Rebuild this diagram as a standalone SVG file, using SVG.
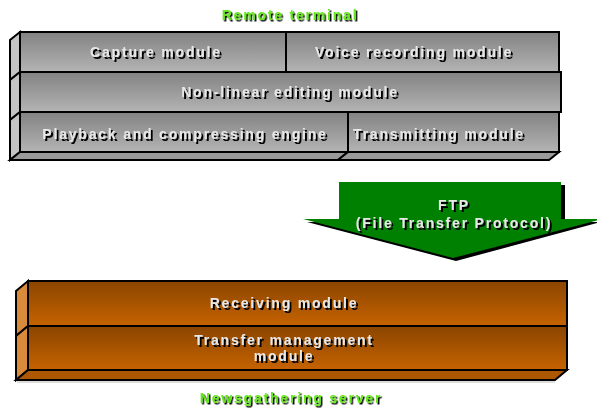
<svg xmlns="http://www.w3.org/2000/svg" width="597" height="408" viewBox="0 0 597 408">
  <defs>
    <linearGradient id="gray" x1="0" y1="0" x2="0" y2="1">
      <stop offset="0" stop-color="#828282"/>
      <stop offset="1" stop-color="#b4b4b4"/>
    </linearGradient>
    <linearGradient id="rust" x1="0" y1="0" x2="0" y2="1">
      <stop offset="0" stop-color="#8a4500"/>
      <stop offset="1" stop-color="#c66300"/>
    </linearGradient>
    <filter id="shadow" x="-10%" y="-30%" width="130%" height="180%">
      <feDropShadow dx="2" dy="2" stdDeviation="0" flood-color="#000" flood-opacity="1"/>
    </filter>
    <filter id="shadowSm" x="-10%" y="-30%" width="130%" height="180%">
      <feDropShadow dx="1.5" dy="1.5" stdDeviation="0" flood-color="#000" flood-opacity="1"/>
    </filter>
  </defs>
  <style>
    .edge { stroke: #000; stroke-width: 2; stroke-linejoin: miter; }
    .gface { fill: url(#gray); }
    .gside { fill: #c4c4c4; }
    .gbottom { fill: #9a9a9a; }
    .oface { fill: url(#rust); }
    .oside { fill: #d98a3a; }
    .obottom { fill: #ad5700; }
    .lbl { font-family: "Liberation Sans", Arial, sans-serif; font-weight: bold; font-size: 14px; letter-spacing: 1.8px; fill: #e8e8e8; text-anchor: middle; filter: url(#shadow); }
    .title { font-family: "Liberation Sans", Arial, sans-serif; font-weight: bold; font-size: 14px; letter-spacing: 1.8px; fill: #66e61e; text-anchor: middle; filter: url(#shadowSm); }
  </style>

  <rect width="597" height="408" fill="#ffffff"/>

  <!-- Remote terminal stack -->
  <g id="remote-terminal">
    <text class="title" x="290" y="20">Remote terminal</text>
    <!-- side and bottom faces -->
    <g class="edge">
      <polygon class="gside" points="20,32 10,40 10,80 20,72"/>
      <polygon class="gside" points="20,72 10,80 10,120 20,112"/>
      <polygon class="gside" points="20,112 10,120 10,160 20,152"/>
      <polygon class="gbottom" points="20,152 348,152 338,160 10,160"/>
      <polygon class="gbottom" points="348,152 559,152 549,160 338,160"/>
    </g>
    <g id="capture-module">
      <rect class="gface edge" x="20" y="32" width="266" height="40"/>
      <text class="lbl" x="156" y="57">Capture module</text>
    </g>
    <g id="voice-recording-module">
      <rect class="gface edge" x="286" y="32" width="273" height="40"/>
      <text class="lbl" x="414" y="57">Voice recording module</text>
    </g>
    <g id="non-linear-editing-module">
      <rect class="gface edge" x="20" y="72" width="541" height="40"/>
      <text class="lbl" x="290" y="97">Non-linear editing module</text>
    </g>
    <g id="playback-engine">
      <rect class="gface edge" x="20" y="112" width="328" height="40"/>
      <text class="lbl" x="185" y="139">Playback and compressing engine</text>
    </g>
    <g id="transmitting-module">
      <rect class="gface edge" x="348" y="112" width="211" height="40"/>
      <text class="lbl" x="439" y="139">Transmitting module</text>
    </g>
  </g>

  <!-- FTP transfer arrow -->
  <g id="connectors">
    <g id="ftp-arrow">
      <polygon fill="#000" points="343,185 565,185 565,222 601,222 456,261 307,222 343,222"/>
      <polygon fill="#008000" points="339,182 561,182 561,219 603,219 453,258 303,219 339,219"/>
      <text class="lbl" x="454" y="210">FTP</text>
      <text class="lbl" x="454" y="228">(File Transfer Protocol)</text>
    </g>
  </g>

  <!-- Newsgathering server stack -->
  <g id="newsgathering-server">
    <g class="edge">
      <polygon class="oside" points="28,281 16,291 16,336 28,326"/>
      <polygon class="oside" points="28,326 16,336 16,380 28,370"/>
      <polygon class="obottom" points="28,370 567,370 555,380 16,380"/>
    </g>
    <line x1="17" y1="382" x2="555" y2="382" stroke="#bbbbbb" stroke-width="1"/>
    <g id="receiving-module">
      <rect class="oface edge" x="28" y="281" width="539" height="45"/>
      <text class="lbl" x="284" y="308">Receiving module</text>
    </g>
    <g id="transfer-management-module">
      <rect class="oface edge" x="28" y="326" width="539" height="44"/>
      <text class="lbl" x="284" y="345">Transfer management</text>
      <text class="lbl" x="284" y="361">module</text>
    </g>
    <text class="title" x="291" y="403">Newsgathering server</text>
  </g>
</svg>
